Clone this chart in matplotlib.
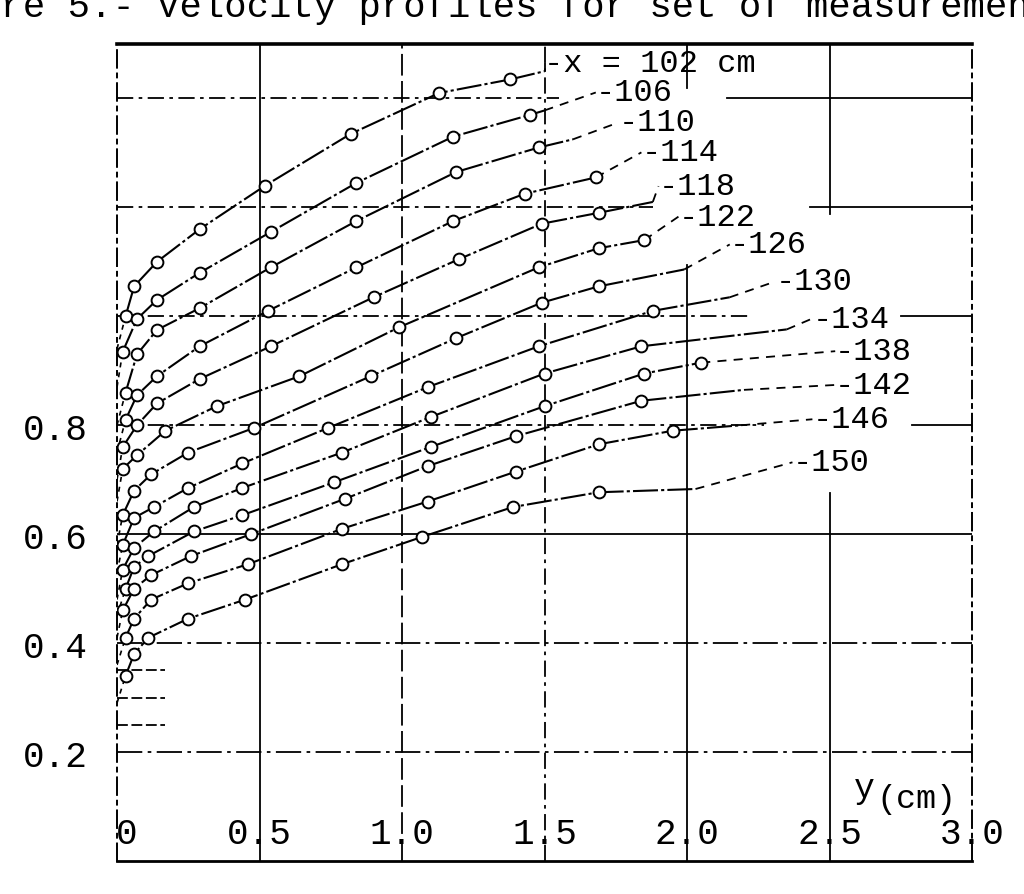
import matplotlib
matplotlib.use('Agg')
import matplotlib.pyplot as plt

plt.rcParams['font.family'] = ['Liberation Mono', 'DejaVu Sans Mono']

# stations x (cm)
stations = [102, 106, 110, 114, 118, 122, 126, 130, 134, 138, 142, 146, 150]
labels = ['-x = 102 cm', '-106', '-110', '-114', '-118', '-122', '-126',
          '-130', '-134', '-138', '-142', '-146', '-150']

# measured points: distance from wall y (cm) and velocity ratio, one list per station
y_pts = [
    [0.03, 0.06, 0.14, 0.29, 0.52, 0.82, 1.13, 1.38],
    [0.02, 0.07, 0.14, 0.29, 0.54, 0.84, 1.18, 1.45],
    [0.03, 0.07, 0.14, 0.29, 0.54, 0.84, 1.19, 1.48],
    [0.03, 0.07, 0.14, 0.29, 0.53, 0.84, 1.18, 1.43, 1.68],
    [0.02, 0.07, 0.14, 0.29, 0.54, 0.90, 1.20, 1.49, 1.69],
    [0.02, 0.07, 0.17, 0.35, 0.64, 0.99, 1.48, 1.69, 1.85],
    [0.02, 0.06, 0.12, 0.25, 0.48, 0.89, 1.19, 1.49, 1.69],
    [0.02, 0.06, 0.13, 0.25, 0.44, 0.74, 1.09, 1.48, 1.88],
    [0.02, 0.06, 0.13, 0.27, 0.44, 0.79, 1.10, 1.50, 1.84],
    [0.03, 0.06, 0.11, 0.27, 0.44, 0.76, 1.10, 1.50, 1.85, 2.05],
    [0.02, 0.06, 0.12, 0.26, 0.47, 0.80, 1.09, 1.40, 1.84],
    [0.03, 0.06, 0.12, 0.25, 0.46, 0.79, 1.09, 1.40, 1.69, 1.95],
    [0.03, 0.06, 0.11, 0.25, 0.45, 0.79, 1.07, 1.39, 1.69],
]
u_pts = [
    [1.00, 1.055, 1.10, 1.16, 1.24, 1.335, 1.41, 1.435],
    [0.935, 0.995, 1.03, 1.08, 1.155, 1.245, 1.33, 1.37],
    [0.86, 0.93, 0.975, 1.015, 1.09, 1.175, 1.265, 1.31],
    [0.81, 0.855, 0.89, 0.945, 1.01, 1.09, 1.175, 1.225, 1.255],
    [0.76, 0.80, 0.84, 0.885, 0.945, 1.035, 1.105, 1.17, 1.19],
    [0.72, 0.745, 0.79, 0.835, 0.89, 0.98, 1.09, 1.125, 1.14],
    [0.635, 0.68, 0.71, 0.75, 0.795, 0.89, 0.96, 1.025, 1.055],
    [0.58, 0.63, 0.65, 0.685, 0.73, 0.795, 0.87, 0.945, 1.01],
    [0.535, 0.575, 0.605, 0.65, 0.685, 0.75, 0.815, 0.895, 0.945],
    [0.50, 0.54, 0.56, 0.605, 0.635, 0.695, 0.76, 0.835, 0.895, 0.915],
    [0.46, 0.50, 0.525, 0.56, 0.60, 0.665, 0.725, 0.78, 0.845],
    [0.41, 0.445, 0.48, 0.51, 0.545, 0.61, 0.66, 0.715, 0.765, 0.79],
    [0.34, 0.38, 0.41, 0.445, 0.48, 0.545, 0.595, 0.65, 0.677],
]
# where the faired curves meet the wall (y = 0)
wall_u = [0.94, 0.87, 0.80, 0.75, 0.70, 0.66, 0.58, 0.53, 0.48, 0.45, 0.41, 0.36, 0.29]
# faired continuation beyond the last point (None = none drawn)
ext_y = [1.50, 1.50, 1.60, None, 1.88, None, 1.99, 2.15, 2.35, None, 2.20, 2.19, 2.03]
ext_u = [1.45, 1.378, 1.325, None, 1.21, None, 1.086, 1.035, 0.976, None, 0.865, 0.80, 0.683]
# label anchors
lab_y = [1.50, 1.68, 1.76, 1.84, 1.90, 1.97, 2.15, 2.31, 2.44, 2.52, 2.52, 2.44, 2.37]
lab_u = [1.466, 1.411, 1.356, 1.301, 1.239, 1.183, 1.132, 1.064, 0.996, 0.936, 0.874, 0.811, 0.732]

ytick_vals = [0.2, 0.4, 0.6, 0.8]
xtick_vals = [0.0, 0.5, 1.0, 1.5, 2.0, 2.5, 3.0]
xtick_text = ['0', '0.5', '1.0', '1.5', '2.0', '2.5', '3.0']

fig = plt.figure(figsize=(10.24, 8.95), dpi=100)
fig.patch.set_facecolor('white')
ax = fig.add_axes([117 / 1024, 1 - 862 / 895, 855 / 1024, 817 / 895])
ax.set_xlim(0, 3.0)
ax.set_ylim(0, 1.5)

dashdot = (0, (9, 3, 2, 3))
grid_kw = dict(color='black', lw=1.3, zorder=1)

# vertical grid lines (partly broken, as drawn by hand)
ax.plot([0.5, 0.5], [0, 1.5], '-', **grid_kw)
ax.plot([1.0, 1.0], [0, 1.5], linestyle=(0, (12, 3)), **grid_kw)
ax.plot([1.5, 1.5], [0, 1.5], linestyle=dashdot, **grid_kw)
ax.plot([2.0, 2.0], [0, 1.095], '-', **grid_kw)
ax.plot([2.0, 2.0], [1.42, 1.5], '-', **grid_kw)
ax.plot([2.5, 2.5], [0, 0.675], '-', **grid_kw)
ax.plot([2.5, 2.5], [1.187, 1.5], '-', **grid_kw)

# horizontal grid lines
ax.plot([0, 1.55], [1.4, 1.4], linestyle=dashdot, **grid_kw)
ax.plot([2.14, 3.0], [1.4, 1.4], '-', **grid_kw)
ax.plot([0, 1.88], [1.2, 1.2], linestyle=dashdot, **grid_kw)
ax.plot([2.43, 3.0], [1.2, 1.2], '-', **grid_kw)
ax.plot([0, 2.22], [1.0, 1.0], linestyle=dashdot, **grid_kw)
ax.plot([2.75, 3.0], [1.0, 1.0], '-', **grid_kw)
ax.plot([0, 2.27], [0.8, 0.8], linestyle=dashdot, **grid_kw)
ax.plot([2.79, 3.0], [0.8, 0.8], '-', **grid_kw)
ax.plot([0, 3.0], [0.6, 0.6], '-', **grid_kw)
ax.plot([0, 3.0], [0.4, 0.4], linestyle=(0, (14, 3, 2, 3)), **grid_kw)
ax.plot([0, 3.0], [0.2, 0.2], linestyle=(0, (14, 3, 2, 3)), **grid_kw)
for yy in [0.25, 0.30, 0.35]:
    ax.plot([0, 0.17], [yy, yy], linestyle=(0, (6, 2)), **grid_kw)

# profiles
curve_ls = (0, (12, 1.5, 1.5, 1.5))
for i, st in enumerate(stations):
    ys, us = y_pts[i], u_pts[i]
    ax.plot([0.0, ys[0]], [wall_u[i], us[0]], color='black', lw=1.2,
            linestyle=(0, (3, 3)), zorder=2)
    ax.plot(ys, us, color='black', lw=1.5, linestyle=curve_ls, zorder=3)
    end_y, end_u = ys[-1], us[-1]
    if ext_y[i] is not None:
        ax.plot([ys[-1], ext_y[i]], [us[-1], ext_u[i]], color='black', lw=1.5,
                linestyle=curve_ls, zorder=3)
        end_y, end_u = ext_y[i], ext_u[i]
    ax.plot([end_y, lab_y[i]], [end_u, lab_u[i]], color='black', lw=1.3,
            linestyle=(0, (5, 4)), zorder=3)
    ax.plot(ys, us, 'o', ms=8.5, mfc='white', mec='black', mew=1.4, zorder=4)
    ax.text(lab_y[i], lab_u[i], labels[i], fontsize=23, ha='left', va='center',
            color='black', zorder=5)

# frame
for side in ['left', 'right']:
    ax.spines[side].set_linestyle(dashdot)
    ax.spines[side].set_linewidth(1.4)
ax.spines['top'].set_linewidth(2.6)
ax.spines['bottom'].set_linewidth(2.0)

ax.set_xticks([])
ax.set_yticks(ytick_vals)
ax.set_yticklabels(['0.2', '0.4', '0.6', '0.8'])
ax.tick_params(axis='y', length=0, pad=21, labelsize=26)

for xv, txt in zip(xtick_vals, xtick_text):
    xpos = 0.035 if xv == 0 else xv
    ax.text(xpos, 0.05, txt, fontsize=26, ha='center', va='center', zorder=5)

ax.text(2.585, 0.135, 'y', fontsize=25, ha='left', va='center')
ax.text(2.665, 0.115, '(cm)', fontsize=24, ha='left', va='center')

fig.text(-89 / 1024, 1 - 17 / 895, 'Figure 5.- Velocity profiles for set of measurements',
         fontsize=26.8, ha='left', va='baseline')

fig.savefig('out.png', dpi=100, facecolor='white')
